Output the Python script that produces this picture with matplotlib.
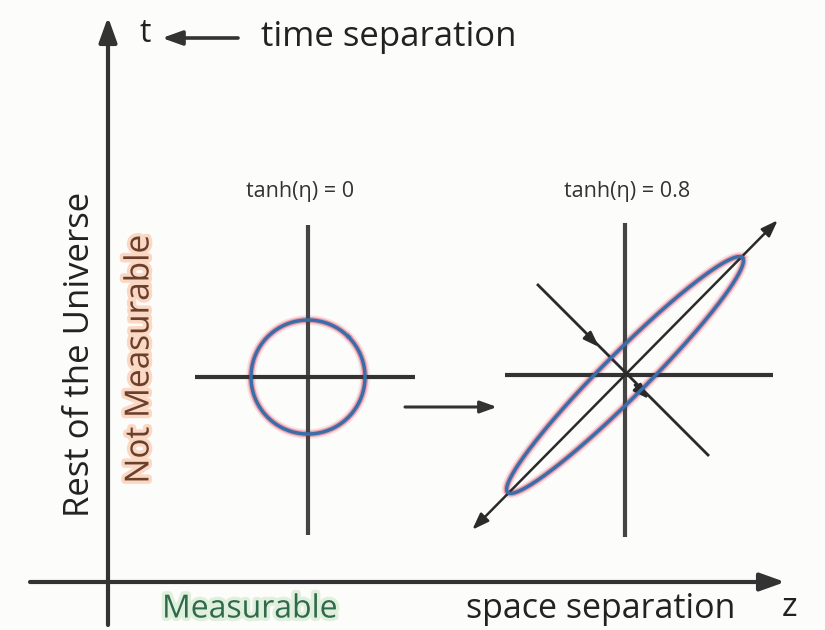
import numpy as np
import matplotlib
matplotlib.use("Agg")
import matplotlib.pyplot as plt
from matplotlib import patheffects as pe

# ---- content ----
tanh_eta = [0.0, 0.8]
panel_titles = ["tanh(η) = 0", "tanh(η) = 0.8"]
time_label = "time separation"
space_label = "space separation"
t_label = "t"
z_label = "z"
left_label = "Rest of the Universe"
not_meas_label = "Not Measurable"
meas_label = "Measurable"
semi_major = [57.0, 166.0]   # along the light-cone diagonal
semi_minor = [57.0, 22.0]    # across it

# ---- layout (pixel space) ----
W, H = 825, 630
fig = plt.figure(figsize=(W / 100, H / 100), dpi=100)
fig.patch.set_facecolor("#fcfcfa")
ax = fig.add_axes([0, 0, 1, 1])
ax.set_xlim(0, W)
ax.set_ylim(H, 0)
ax.axis("off")
ax.set_facecolor("#fcfcfa")

FONT = ["Open Sans", "DejaVu Sans"]
AX_COL = "#333333"
BLUE = "#3a6ea8"
PINK = "#f08a9a"

def arrow(x0, y0, x1, y1, lw=2.6, head=14, both=False, color=AX_COL):
    style = "<|-|>" if both else "-|>"
    ax.annotate("", xy=(x1, y1), xytext=(x0, y0),
                arrowprops=dict(arrowstyle=f"{style},head_length={head/10:.2f},head_width={head/28:.2f}",
                                color=color, lw=lw, shrinkA=0, shrinkB=0))

# main axes
arrow(108, 625, 108, 17, lw=3.0, head=15)
arrow(30, 582, 785, 582, lw=3.0, head=15)

# header
ax.text(145, 34, t_label, fontsize=23, family=FONT, ha="center", va="center", color="#222222")
arrow(238, 38, 162, 38, lw=2.6, head=12)
ax.text(261, 37, time_label, fontsize=25, family=FONT, ha="left", va="center", color="#222222")

# left labels
ax.text(80, 354, left_label, fontsize=25, family=FONT, rotation=90, ha="center", va="center", color="#222222")
ax.text(140, 359, not_meas_label, fontsize=24, family=FONT, rotation=90, ha="center", va="center",
        color="#6a3f2c", path_effects=[pe.withStroke(linewidth=5, foreground="#fbd8c4")])

# bottom labels
ax.text(250, 609, meas_label, fontsize=23, family=FONT, ha="center", va="center",
        color="#2f6a4e", path_effects=[pe.withStroke(linewidth=5, foreground="#e0f0dc")])
ax.text(601, 609, space_label, fontsize=24.5, family=FONT, ha="center", va="center", color="#222222")
ax.text(790, 607, z_label, fontsize=24, family=FONT, ha="center", va="center", color="#222222")

def loop(cx, cy, a, b, ang_deg):
    phi = np.linspace(0, 2 * np.pi, 400)
    u = a * np.cos(phi)
    v = b * np.sin(phi)
    th = np.deg2rad(ang_deg)
    x = u * np.cos(th) - v * np.sin(th)
    y = u * np.sin(th) + v * np.cos(th)
    return cx + x, cy - y

centers = [(308, 377), (625, 375)]
vert_half = [(225, 535), (223, 537)]
horiz = [(195, 415), (505, 773)]
title_x = [300, 627]

for i, th in enumerate(tanh_eta):
    cx, cy = centers[i]
    ax.plot([cx, cx], list(vert_half[i]), color="#444444", lw=3.0, solid_capstyle="butt", zorder=3)
    ax.plot(list(horiz[i]), [cy, cy], color="#333333", lw=3.0, solid_capstyle="butt", zorder=3)
    xs, ys = loop(cx, cy, semi_major[i], semi_minor[i], 45)
    ax.plot(xs, ys, color=PINK, lw=7, alpha=0.25, zorder=2)
    ax.plot(xs, ys, color="#e0607a", lw=4.4, alpha=0.55, zorder=2)
    ax.plot(xs, ys, color=BLUE, lw=2.5, zorder=4)
    ax.text(title_x[i], 192, panel_titles[i], fontsize=15.5, family=FONT, ha="center", va="center", color="#333333")
    if th > 0:
        L = 216
        d = L / np.sqrt(2)
        arrow(cx - d, cy + d + 2, cx + d, cy - d - 2, lw=1.8, head=10, both=True, color="#2a2a2a")
        # contracted anti-diagonal
        ax.plot([538, 708], [285, 455], color="#2a2a2a", lw=2.0, zorder=3)
        arrow(cx - 38, cy - 40, cx - 26, cy - 28, lw=2.0, head=9, color="#2a2a2a")
        arrow(cx + 10, cy + 10, cx + 24, cy + 24, lw=2.0, head=9, color="#2a2a2a")

# boost arrow between panels
arrow(405, 407, 497, 407, lw=2.2, head=10)

fig.savefig("out.png", dpi=100, facecolor=fig.get_facecolor())
